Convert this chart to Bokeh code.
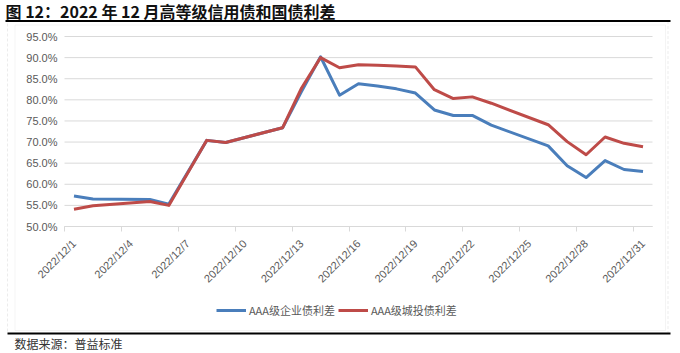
import math
from bokeh.plotting import figure
from bokeh.models import (FixedTicker, PrintfTickFormatter, Label, BoxAnnotation,
                          Legend, LegendItem, Range1d, ColumnDataSource)
from bokeh.embed import file_html
from bokeh.resources import INLINE

title_text = "图 12：2022 年 12 月高等级信用债和国债利差"
source_text = "数据来源：普益标准"
series_names = ["AAA级企业债利差", "AAA级城投债利差"]

dates = ["2022-12-01", "2022-12-02", "2022-12-05", "2022-12-06", "2022-12-08",
         "2022-12-09", "2022-12-12", "2022-12-13", "2022-12-14", "2022-12-15",
         "2022-12-16", "2022-12-17", "2022-12-18", "2022-12-19", "2022-12-20",
         "2022-12-21", "2022-12-22", "2022-12-23", "2022-12-26", "2022-12-27",
         "2022-12-28", "2022-12-29", "2022-12-30", "2022-12-31"]
corp_spread = [57.2, 56.5, 56.4, 55.3, 70.4, 69.9, 73.4, 82.0, 90.2, 81.1,
               83.8, 83.3, 82.6, 81.6, 77.6, 76.3, 76.3, 74.0, 69.1, 64.4,
               61.6, 65.6, 63.5, 63.0]
lgfv_spread = [54.1, 54.9, 55.9, 55.0, 70.4, 69.9, 73.4, 82.8, 90.0, 87.6,
               88.3, 88.2, 88.0, 87.8, 82.4, 80.3, 80.7, 79.2, 74.1, 70.1,
               67.0, 71.2, 69.7, 68.9]
x_tick_labels = ["2022/12/1", "2022/12/4", "2022/12/7", "2022/12/10", "2022/12/13",
                 "2022/12/16", "2022/12/19", "2022/12/22", "2022/12/25",
                 "2022/12/28", "2022/12/31"]
y_ticks = [50, 55, 60, 65, 70, 75, 80, 85, 90, 95]

days = [int(d.split("-")[2]) for d in dates]
label_days = [int(s.split("/")[2]) for s in x_tick_labels]

# ---- layout: frame covers the whole canvas; plot region mapped inside it ----
W, H = 680, 353
PX_L, PX_R, PX_T, PX_B = 64, 652, 36, 226
xd0, xd1 = 0.5, 31.5
yd0, yd1 = y_ticks[0], y_ticks[-1]
kx = (xd1 - xd0) / (PX_R - PX_L)
ky = (yd1 - yd0) / (PX_B - PX_T)
x_start = xd0 - PX_L * kx
x_end = xd0 + (W - PX_L) * kx
y_end = yd1 + PX_T * ky
y_start = yd1 - (H - PX_T) * ky


def cx(px):
    return x_start + px * kx


def cy(py):
    return y_end - py * ky


src = ColumnDataSource(dict(x=days, corp=corp_spread, lgfv=lgfv_spread))

p = figure(width=W, height=H, output_backend="svg", toolbar_location=None,
           title=None,
           x_range=Range1d(x_start, x_end), y_range=Range1d(y_start, y_end),
           min_border=0, min_border_left=0, min_border_right=0,
           min_border_top=0, min_border_bottom=0)
p.outline_line_color = None
p.background_fill_color = "white"
p.border_fill_color = "white"
p.xgrid.visible = False
p.ygrid.visible = False

BLUE = "#4A7EBB"
RED = "#BE4B48"
GREY_TXT = "#595959"
GRID = "#D9D9D9"

# decorations: outer dashed frame, chart border
p.add_layout(BoxAnnotation(left=cx(7), right=cx(667.5), top=cy(21), bottom=cy(333),
                           fill_color=None, line_color="#BFBFBF", line_width=1,
                           line_dash="3 2"))
p.add_layout(BoxAnnotation(left=cx(14.5), right=cx(665), top=cy(24.5), bottom=cy(330),
                           fill_color=None, line_color=GRID, line_width=1))

# horizontal gridlines
n = len(y_ticks)
p.segment(x0=[xd0] * n, x1=[xd1] * n, y0=y_ticks, y1=y_ticks,
          line_color=GRID, line_width=1)

r1 = p.line("x", "corp", source=src, line_color=BLUE, line_width=3, line_join="round")
r2 = p.line("x", "lgfv", source=src, line_color=RED, line_width=3, line_join="round")

# axes at fixed locations
xa = p.xaxis[0]
xa.fixed_location = yd0
xa.bounds = (xd0, xd1)
xa.ticker = FixedTicker(ticks=label_days, minor_ticks=[d - 0.5 for d in label_days])
xa.major_label_overrides = {d: s for d, s in zip(label_days, x_tick_labels)}
xa.major_label_orientation = math.pi / 4
xa.major_tick_line_color = None
xa.major_tick_out = 0
xa.major_tick_in = 0
xa.minor_tick_line_color = GRID
xa.minor_tick_in = 0
xa.minor_tick_out = 5
xa.axis_line_color = GRID
xa.major_label_text_font = "Liberation Sans"
xa.major_label_text_font_size = "11px"
xa.major_label_text_color = GREY_TXT
xa.major_label_standoff = 10

ya = p.yaxis[0]
ya.fixed_location = xd0
ya.bounds = (yd0, yd1)
ya.ticker = FixedTicker(ticks=y_ticks)
ya.formatter = PrintfTickFormatter(format="%.1f%%")
ya.axis_line_color = None
ya.major_tick_line_color = None
ya.major_tick_out = 0
ya.major_tick_in = 0
ya.minor_tick_line_color = None
ya.major_label_text_font = "Liberation Sans"
ya.major_label_text_font_size = "11px"
ya.major_label_text_color = GREY_TXT
ya.major_label_standoff = 7

# legend
legend = Legend(items=[LegendItem(label=series_names[0], renderers=[r1]),
                       LegendItem(label=series_names[1], renderers=[r2])],
                orientation="horizontal", location=(216, H - 318),
                padding=0, margin=0, spacing=3, label_standoff=3,
                glyph_width=30, glyph_height=14, label_height=14,
                border_line_color=None, background_fill_alpha=0,
                label_text_font="Noto Sans CJK SC", label_text_font_size="11px",
                label_text_color=GREY_TXT)
p.add_layout(legend)

# black rules
p.add_layout(BoxAnnotation(left=cx(5), right=cx(670), top=cy(19.5), bottom=cy(21.5),
                           fill_color="black", fill_alpha=1, line_color=None))
p.add_layout(BoxAnnotation(left=cx(7), right=cx(670), top=cy(332), bottom=cy(334),
                           fill_color="black", fill_alpha=1, line_color=None))

# texts
p.add_layout(Label(x=cx(5), y=cy(10.5), text=title_text,
                   text_font="Noto Sans CJK SC", text_font_style="bold",
                   text_font_size="16px", text_color="#111111",
                   text_baseline="middle", text_align="left"))
p.add_layout(Label(x=cx(14), y=cy(343), text=source_text,
                   text_font="Noto Sans CJK SC", text_font_size="12px",
                   text_color="#333333", text_baseline="middle", text_align="left"))

open("out.html", "w").write(file_html(p, INLINE))
